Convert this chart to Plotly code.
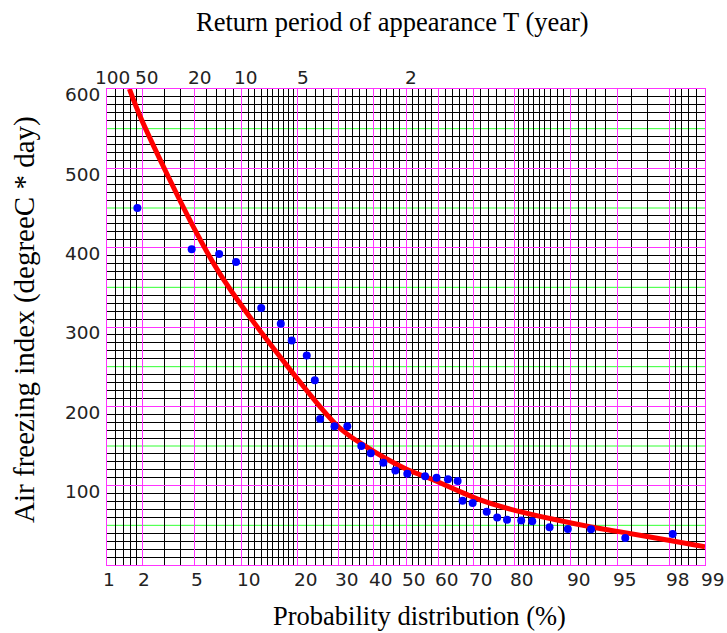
import math
import plotly.graph_objects as go

# ---------------- data ----------------
# observed points: probability (%) and air freezing index
obs_prob = [1.83, 4.77, 7.3, 9.3, 13.0, 16.5, 18.7, 22.0, 23.9, 25.2, 28.9, 32.4,
            36.4, 39.2, 43.0, 46.7, 50.4, 55.9, 59.4, 62.8, 65.6, 67.0, 69.8, 73.5,
            76.1, 78.4, 81.5, 83.7, 86.8, 89.6, 92.5, 95.6, 98.1]
obs_value = [450, 398, 392, 382, 324, 304, 283, 264, 233, 184, 175, 175,
             150, 141, 129, 119, 115, 112, 110, 108, 106, 81, 78, 67,
             60, 57, 56, 55, 47.5, 45.3, 45, 34, 39]

# fitted curve
fit_prob = [1.57, 2, 5.18, 7.78, 18.4, 30, 36.4, 50, 57.4, 71.8, 79.1, 92.5, 95, 98, 99]
fit_value = [600, 560, 418, 360, 246, 174, 153, 121, 109, 82, 70.5, 48, 42.4, 30.8, 23]

# probability-paper grid
prob_major = [1, 2, 5, 10, 20, 30, 40, 50, 60, 70, 80, 90, 95, 98, 99]
prob_minor = ([1.2, 1.4, 1.6, 1.8, 3, 4, 6, 7, 8, 9] + list(range(11, 20)) +
              [22, 24, 26, 28, 32, 34, 36, 38, 42, 44, 46, 48, 52, 54, 56, 58,
               62, 64, 66, 68, 72, 74, 76, 78] + list(range(81, 90)) +
              [91, 92, 93, 94, 96, 97, 98.2, 98.4, 98.6, 98.8])
bottom_labels = ["1", "2", "5", "10", "20", "30", "40", "50", "60", "70", "80", "90", "95", "98", "99"]

return_periods = [100, 50, 20, 10, 5, 2]
return_labels = ["100", "50", "20", "10", "5", "2"]

y_major = [100, 200, 300, 400, 500, 600]
y_green = [50, 150, 250, 350, 450, 550]
y_minor = [v for v in range(10, 600, 10) if v % 50 != 0]


def norm_ppf(pct):
    p = pct / 100.0
    lo, hi = -10.0, 10.0
    for _ in range(200):
        mid = 0.5 * (lo + hi)
        if 0.5 * (1 + math.erf(mid / math.sqrt(2))) < p:
            lo = mid
        else:
            hi = mid
    return 0.5 * (lo + hi)


MAGENTA = "#ff33ff"
GREEN = "#33ff33"
TICKFONT = dict(family="DejaVu Sans", size=18.5, color="#222222")
TITLEFONT = dict(family="Liberation Serif", size=26.5, color="black")
YTITLEFONT = dict(family="Liberation Serif", size=29, color="black")

fig = go.Figure()

fig.add_trace(go.Scatter(
    x=[norm_ppf(p) for p in fit_prob], y=fit_value, mode="lines",
    line=dict(color="#ff0000", width=5, shape="spline", smoothing=1.0),
    showlegend=False, hoverinfo="skip"))

fig.add_trace(go.Scatter(
    x=[norm_ppf(p) for p in obs_prob], y=obs_value, mode="markers",
    marker=dict(color="#0000ff", size=8, line=dict(width=0)),
    showlegend=False))

xmin, xmax = norm_ppf(1), norm_ppf(99)

for v in y_green:
    fig.add_shape(type="line", xref="paper", yref="y", x0=0, x1=1, y0=v, y1=v,
                  line=dict(color=GREEN, width=1), layer="between")

annotations = []
for p, lab in zip(prob_major, bottom_labels):
    annotations.append(dict(x=norm_ppf(p), y=-0.0305, xref="x", yref="paper",
                            text=lab, showarrow=False, xanchor="left", yanchor="middle",
                            xshift=-6, font=TICKFONT))
for t, lab in zip(return_periods, return_labels):
    annotations.append(dict(x=norm_ppf(100.0 / t), y=1.025, xref="x", yref="paper",
                            text=lab, showarrow=False, xanchor="center", yanchor="middle",
                            xshift=5, font=TICKFONT))

annotations.append(dict(x=0.478, y=1.1408, xref="paper", yref="paper",
                        text="Return period of appearance T (year)", showarrow=False,
                        xanchor="center", yanchor="middle", font=TITLEFONT))
annotations.append(dict(x=0.522, y=-0.108, xref="paper", yref="paper",
                        text="Probability distribution (%)", showarrow=False,
                        xanchor="center", yanchor="middle", font=TITLEFONT))
annotations.append(dict(x=-0.137, y=0.515, xref="paper", yref="paper",
                        text="Air freezing index (degreeC * day)", showarrow=False,
                        textangle=-90, xanchor="center", yanchor="middle", font=YTITLEFONT))

fig.update_layout(
    width=727, height=633,
    margin=dict(l=107, r=22, t=89, b=68, autoexpand=False),
    paper_bgcolor="white", plot_bgcolor="white",
    annotations=annotations,
    xaxis=dict(
        range=[xmin, xmax], tickmode="array", automargin=False,
        tickvals=[norm_ppf(p) for p in prob_major], showticklabels=False, ticks="",
        showgrid=True, gridcolor=MAGENTA, gridwidth=1, zeroline=False,
        showline=True, linecolor=MAGENTA, linewidth=1, mirror=True,
        minor=dict(tickmode="array", tickvals=[norm_ppf(p) for p in prob_minor],
                   showgrid=True, gridcolor="#000000", gridwidth=1, ticks=""),
    ),
    yaxis=dict(
        range=[0, 600], tickmode="array", tickvals=y_major, automargin=False,
        ticktext=[str(v) for v in y_major], tickfont=TICKFONT, ticks="",
        ticklabelshift=6, ticklabelstandoff=2,
        showgrid=True, gridcolor=MAGENTA, gridwidth=1, zeroline=False,
        showline=True, linecolor=MAGENTA, linewidth=1, mirror=True,
        minor=dict(tickmode="array", tickvals=y_minor,
                   showgrid=True, gridcolor="#000000", gridwidth=1, ticks=""),
    ),
)

fig.write_html(
    "out.html",
    config={"displayModeBar": False},
    post_script="document.body.style.margin='0';document.body.style.padding='0';"
                "document.documentElement.style.overflow='hidden';",
)
